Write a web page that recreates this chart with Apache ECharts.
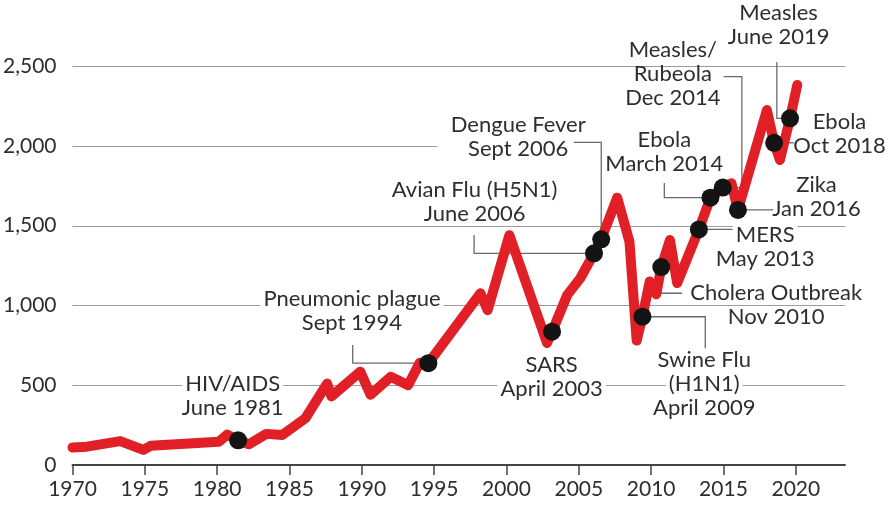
<!DOCTYPE html>
<html>
<head>
<meta charset="utf-8">
<script src="https://cdn.jsdelivr.net/npm/echarts@6/dist/echarts.min.js"></script>
<style>
  html, body { margin: 0; padding: 0; background: #fff; }
  #chart { width: 888px; height: 508px; }
</style>
</head>
<body>
<div id="chart"></div>
<script>
// Index values along the red trend line (turning points between events)
const trendYears  = [1970, 1971, 1973.3, 1974.9, 1975.4, 1980.1, 1980.7, 1982.2, 1983.4, 1984.5,
                     1986.1, 1987.6, 1987.9, 1989.9, 1990.6, 1992.0, 1993.2, 1994.0, 1998.2, 1998.7,
                     2000.2, 2002.8, 2004.2, 2005.1, 2007.65, 2008.5, 2009.0, 2009.9, 2010.35, 2011.3,
                     2011.8, 2015.55, 2018.0, 2018.9, 2020.1];
const trendValues = [110, 115, 150, 95, 120, 145, 190, 130, 195, 188,
                     293, 510, 430, 585, 440, 553, 500, 640, 1076, 970,
                     1440, 765, 1065, 1170, 1675, 1400, 780, 1150, 1070, 1410,
                     1140, 1765, 2224, 1911, 2381];

// Outbreaks marked on the line
const eventLabels = [
  ["HIV/AIDS", "June 1981"],
  ["Pneumonic plague", "Sept 1994"],
  ["SARS", "April 2003"],
  ["Avian Flu (H5N1)", "June 2006"],
  ["Dengue Fever", "Sept 2006"],
  ["Swine Flu", "(H1N1)", "April 2009"],
  ["Cholera Outbreak", "Nov 2010"],
  ["MERS", "May 2013"],
  ["Ebola", "March 2014"],
  ["Measles/", "Rubeola", "Dec 2014"],
  ["Zika", "Jan 2016"],
  ["Ebola", "Oct 2018"],
  ["Measles", "June 2019"]
];
const eventYears  = [1981.45, 1994.6, 2003.15, 2006.05, 2006.55, 2009.4, 2010.7, 2013.3, 2014.1, 2014.95, 2016.0, 2018.5, 2019.6];
const eventValues = [155, 638, 835, 1326, 1414, 929, 1240, 1476, 1675, 1738, 1598, 2019, 2172];

const xTicks = [1970, 1975, 1980, 1985, 1990, 1995, 2000, 2005, 2010, 2015, 2020];
const yTicks = [0, 500, 1000, 1500, 2000, 2500];

// ---- layout (data units) ----
const X_MIN = 1970, X_MAX = 2023.4, Y_MAX = 2500;
// horizontal rules: [value, year where the rule stops]
const ruleSpans = [[500, X_MAX], [1000, X_MAX], [1500, X_MAX], [2000, 1995.2], [2500, X_MAX]];
// callouts: centre of first text line, which line gets a white backing, leader path
// (null in a leader point = take that coordinate from the event dot)
const calloutLayout = [
  { at: [1981.07, 507],  bg: 0,  leader: [] },
  { at: [1989.32, 1040], bg: 0,  leader: [[1989.37, 752], [1989.37, null], [null, null]] },
  { at: [2003.12, 627],  bg: 1,  leader: [] },
  { at: [1997.80, 1723], bg: -1, leader: [[1997.76, 1441], [1997.76, null], [null, null]] },
  { at: [2000.81, 2130], bg: -1, leader: [[2004.66, 2022], [null, 2022], [null, null]] },
  { at: [2013.67, 658],  bg: 1,  leader: [[null, null], [2013.74, null], [2013.74, 731]] },
  { at: [2018.64, 1080], bg: -1, leader: [[null, null], [null, 1076], [2012.14, 1076]] },
  { at: [2017.88, 1441], bg: 0,  leader: [[null, null], [2015.67, null]] },
  { at: [2010.91, 2036], bg: -1, leader: [[2010.91, 1767], [2010.91, null], [null, null]] },
  { at: [2011.50, 2600], bg: -1, leader: [[2015.0, 2433], [2016.27, 2433], [2016.27, null], [null, null]] },
  { at: [2021.43, 1754], bg: -1, leader: [[null, null], [2018.43, null]] },
  { at: [2023.02, 2151], bg: -1, leader: [[null, null], [2019.88, null]] },
  { at: [2018.81, 2830], bg: -1, leader: [[2018.69, 2525], [2018.69, null], [null, null]] }
];
const LINE_GAP = 24;
const TEXT_COLOR = '#2e2e2e';
const FONT = 'Lato, "Noto Sans", sans-serif';

// The red line runs through every event dot, so merge both sets by year
const linePoints = trendYears.map((y, i) => [y, trendValues[i]])
  .concat(eventYears.map((y, i) => [y, eventValues[i]]))
  .sort((a, b) => a[0] - b[0]);
const dotPoints = eventYears.map((y, i) => [y, eventValues[i]]);

const chart = echarts.init(document.getElementById('chart'), null, { renderer: 'canvas' });

chart.setOption({
  animation: false,
  backgroundColor: '#fff',
  grid: { left: 71, right: 43, top: 66, bottom: 43 },
  xAxis: {
    type: 'value',
    min: X_MIN,
    max: X_MAX,
    interval: 5,
    splitLine: { show: false },
    axisLine: { show: true, onZero: true, lineStyle: { color: '#444', width: 2 } },
    axisTick: { show: true, length: 10, customValues: xTicks, lineStyle: { color: '#444', width: 1.5 } },
    axisLabel: {
      customValues: xTicks,
      margin: 14,
      color: TEXT_COLOR,
      fontFamily: FONT,
      fontSize: 21,
      formatter: v => String(v)
    }
  },
  yAxis: {
    type: 'value',
    min: 0,
    max: Y_MAX,
    interval: 500,
    splitLine: { show: false },
    axisLine: { show: false },
    axisTick: { show: false },
    axisLabel: {
      margin: 16,
      color: TEXT_COLOR,
      fontFamily: FONT,
      fontSize: 21,
      formatter: v => v.toLocaleString('en-US')
    }
  },
  series: [
    {
      // horizontal reference rules
      type: 'custom',
      z: 0,
      silent: true,
      data: ruleSpans.map(r => [X_MIN, r[0], r[1]]),
      renderItem: (params, api) => {
        const a = api.coord([api.value(0), api.value(1)]);
        const b = api.coord([api.value(2), api.value(1)]);
        return {
          type: 'line',
          shape: { x1: a[0], y1: Math.round(a[1]) + 0.5, x2: b[0], y2: Math.round(a[1]) + 0.5 },
          style: { stroke: '#9c9c9c', lineWidth: 1 }
        };
      }
    },
    {
      // callout text and leader lines
      type: 'custom',
      z: 1,
      silent: true,
      clip: false,
      data: calloutLayout.map((c, i) => [c.at[0], c.at[1], i]),
      renderItem: (params, api) => {
        const i = params.dataIndex;
        const c = calloutLayout[i];
        const children = [];
        if (c.leader.length) {
          const pts = c.leader.map(p => api.coord([
            p[0] === null ? eventYears[i] : p[0],
            p[1] === null ? eventValues[i] : p[1]
          ]));
          children.push({
            type: 'polyline',
            shape: { points: pts },
            style: { stroke: '#6a6a6a', lineWidth: 1.3, fill: null }
          });
        }
        const anchor = api.coord([c.at[0], c.at[1]]);
        eventLabels[i].forEach((t, k) => {
          const style = {
            text: t,
            x: anchor[0],
            y: anchor[1] + k * LINE_GAP,
            align: 'center',
            verticalAlign: 'middle',
            fill: TEXT_COLOR,
            font: '22px ' + FONT,
            lineHeight: 22
          };
          if (k === c.bg) {
            style.backgroundColor = '#fff';
            style.padding = [0, 3];
          }
          children.push({ type: 'text', style: style });
        });
        return { type: 'group', children: children };
      }
    },
    {
      type: 'line',
      z: 3,
      data: linePoints,
      symbol: 'none',
      silent: true,
      lineStyle: { color: '#e11f26', width: 10, cap: 'round', join: 'round' }
    },
    {
      type: 'scatter',
      z: 4,
      data: dotPoints,
      symbol: 'circle',
      symbolSize: 18,
      silent: true,
      itemStyle: { color: '#141414', opacity: 1 }
    }
  ]
});
</script>
</body>
</html>
